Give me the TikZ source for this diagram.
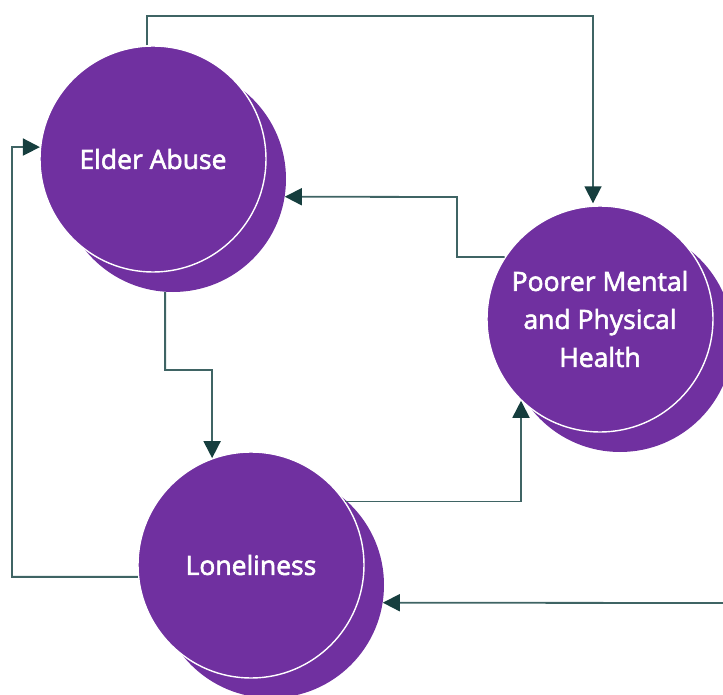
\documentclass[tikz,border=0pt]{standalone}
\usepackage{fontspec}
\setmainfont{Open Sans}
\newfontfamily\labfont{Open Sans}[FakeBold=2.2]
\usetikzlibrary{arrows.meta,calc}
\definecolor{purp}{HTML}{7030A0}
\definecolor{linec}{HTML}{3F6464}
\definecolor{tipc}{HTML}{163E3E}
\tikzset{
  shadowc/.style={circle,fill=purp,minimum size=226pt,inner sep=0pt},
  frontc/.style={circle,fill=purp,draw=white,line width=1.4pt,minimum size=226pt,inner sep=0pt,
    text=white,font=\labfont\fontsize{26.5}{38}\selectfont,align=center},
  conn/.style={draw=linec,line width=1.8pt},
  arr/.style={conn,-{Triangle[length=17pt,width=17pt,color=tipc]}},
}
\begin{document}
\begin{tikzpicture}[x=1pt,y=-1pt]
\useasboundingbox (0,0) rectangle (723,695);
% shadows
\node[shadowc] (eas) at (173,179) {};
\node[shadowc] (pms) at (620,339) {};
\node[shadowc] (los) at (271,585) {};
% fronts
\node[frontc] (ea) at (153,159) {Elder Abuse};
\node[frontc] (pm) at (600,319) {Poorer Mental\\and Physical\\Health};
\node[frontc] (lo) at (251,565) {Loneliness};
\coordinate (rightend) at (723,603);
% connectors
\draw[arr] ($(ea.north)+(-6,0)$) -- (147,16) -| ($(pm.north)+(-7,-2)$);
\draw[arr] (pm.147) -| (457,197) -- (eas.-9);
\draw[arr] (eas.-94.5) |- (212,370) -- (lo.110);
\draw[arr] (lo.186) -| (12,147) -- (ea.174);
\draw[arr] (lo.34) -| (pm.-134.4);
\draw[arr] (rightend) -- (los.-9);
\end{tikzpicture}
\end{document}
